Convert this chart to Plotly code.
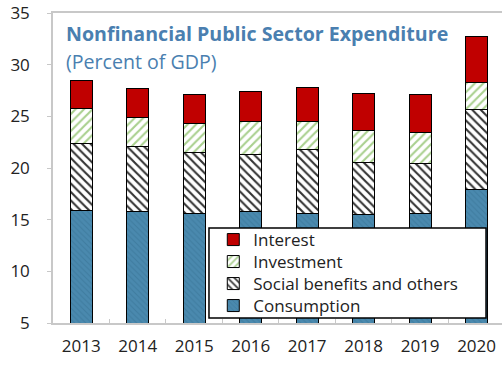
import plotly.graph_objects as go

years = ["2013", "2014", "2015", "2016", "2017", "2018", "2019", "2020"]
consumption = [15.9, 15.8, 15.6, 15.8, 15.6, 15.5, 15.6, 17.9]
social = [6.5, 6.3, 5.9, 5.5, 6.2, 5.0, 4.85, 7.8]
investment = [3.35, 2.8, 2.8, 3.2, 2.7, 3.1, 2.95, 2.6]
interest = [2.75, 2.75, 2.8, 2.95, 3.25, 3.6, 3.7, 4.4]

FONT = "Open Sans"
TITLE_COLOR = "#4A7FB0"
AXIS_GRAY = "#C8C8C8"
TEXT = "#222222"

fig = go.Figure()

fig.add_trace(go.Bar(
    x=years, y=consumption, name="Consumption", legend="legend4",
    marker=dict(
        color="#4A89AE",
        line=dict(color="black", width=1),
        pattern=dict(shape="\\", fgcolor="#3F7C9F", bgcolor="#4A89AE",
                     size=4, solidity=0.25, fillmode="replace"),
    ),
))
fig.add_trace(go.Bar(
    x=years, y=social, name="Social benefits and others", legend="legend3",
    marker=dict(
        color="white",
        line=dict(color="black", width=1),
        pattern=dict(shape="\\", fgcolor="#333333", bgcolor="white",
                     size=6, solidity=0.35, fillmode="replace"),
    ),
))
fig.add_trace(go.Bar(
    x=years, y=investment, name="Investment", legend="legend2",
    marker=dict(
        color="white",
        line=dict(color="black", width=1),
        pattern=dict(shape="/", fgcolor="#A9D08E", bgcolor="white",
                     size=6, solidity=0.35, fillmode="replace"),
    ),
))
fig.add_trace(go.Bar(
    x=years, y=interest, name="Interest", legend="legend",
    marker=dict(color="#C00000", line=dict(color="black", width=1)),
))

# one single-entry legend per series so the rows sit at an even 22px pitch
legend_rows = {"legend": 0.2677, "legend2": 0.1968, "legend3": 0.1258, "legend4": 0.0548}
legend_layout = {
    key: dict(
        x=0.357, y=ypos, xanchor="left", yanchor="middle",
        bgcolor="rgba(0,0,0,0)", borderwidth=0,
        font=dict(family=FONT, size=17, color=TEXT),
        itemwidth=30,
    )
    for key, ypos in legend_rows.items()
}

fig.update_layout(
    width=502, height=365,
    margin=dict(l=53, r=0, t=13, b=42),
    barmode="stack",
    bargap=0.61,
    paper_bgcolor="white",
    plot_bgcolor="white",
    font=dict(family=FONT, size=17, color=TEXT),
    showlegend=True,
    **legend_layout,
    xaxis=dict(
        type="category",
        range=[-0.5, 7.45],
        showline=True, linecolor=AXIS_GRAY, linewidth=1.5, mirror=True,
        ticks="inside", tickson="boundaries", ticklen=4, tickcolor=AXIS_GRAY,
        showgrid=False,
        tickfont=dict(size=17),
        ticklabelstandoff=7,
    ),
    yaxis=dict(
        range=[5, 35],
        tickvals=[5, 10, 15, 20, 25, 30, 35],
        showline=True, linecolor=AXIS_GRAY, linewidth=1.5,
        ticks="outside", ticklen=4, tickcolor=AXIS_GRAY,
        showgrid=False, zeroline=False,
        tickfont=dict(size=17),
        ticklabelstandoff=14,
    ),
    shapes=[
        # legend frame
        dict(type="rect", xref="paper", yref="paper",
             x0=0.3474, x1=0.9644, y0=0.0161, y1=0.3065,
             fillcolor="white", line=dict(color="black", width=1.5),
             layer="above"),
    ],
    annotations=[
        dict(text="<b>Nonfinancial Public Sector Expenditure</b>",
             xref="paper", yref="paper", x=0.024, y=0.935,
             xanchor="left", yanchor="middle", showarrow=False,
             font=dict(family=FONT, size=19.6, color=TITLE_COLOR)),
        dict(text="(Percent of GDP)",
             xref="paper", yref="paper", x=0.024, y=0.845,
             xanchor="left", yanchor="middle", showarrow=False,
             font=dict(family=FONT, size=19.6, color=TITLE_COLOR)),
    ],
)

fig.write_html("out.html")
